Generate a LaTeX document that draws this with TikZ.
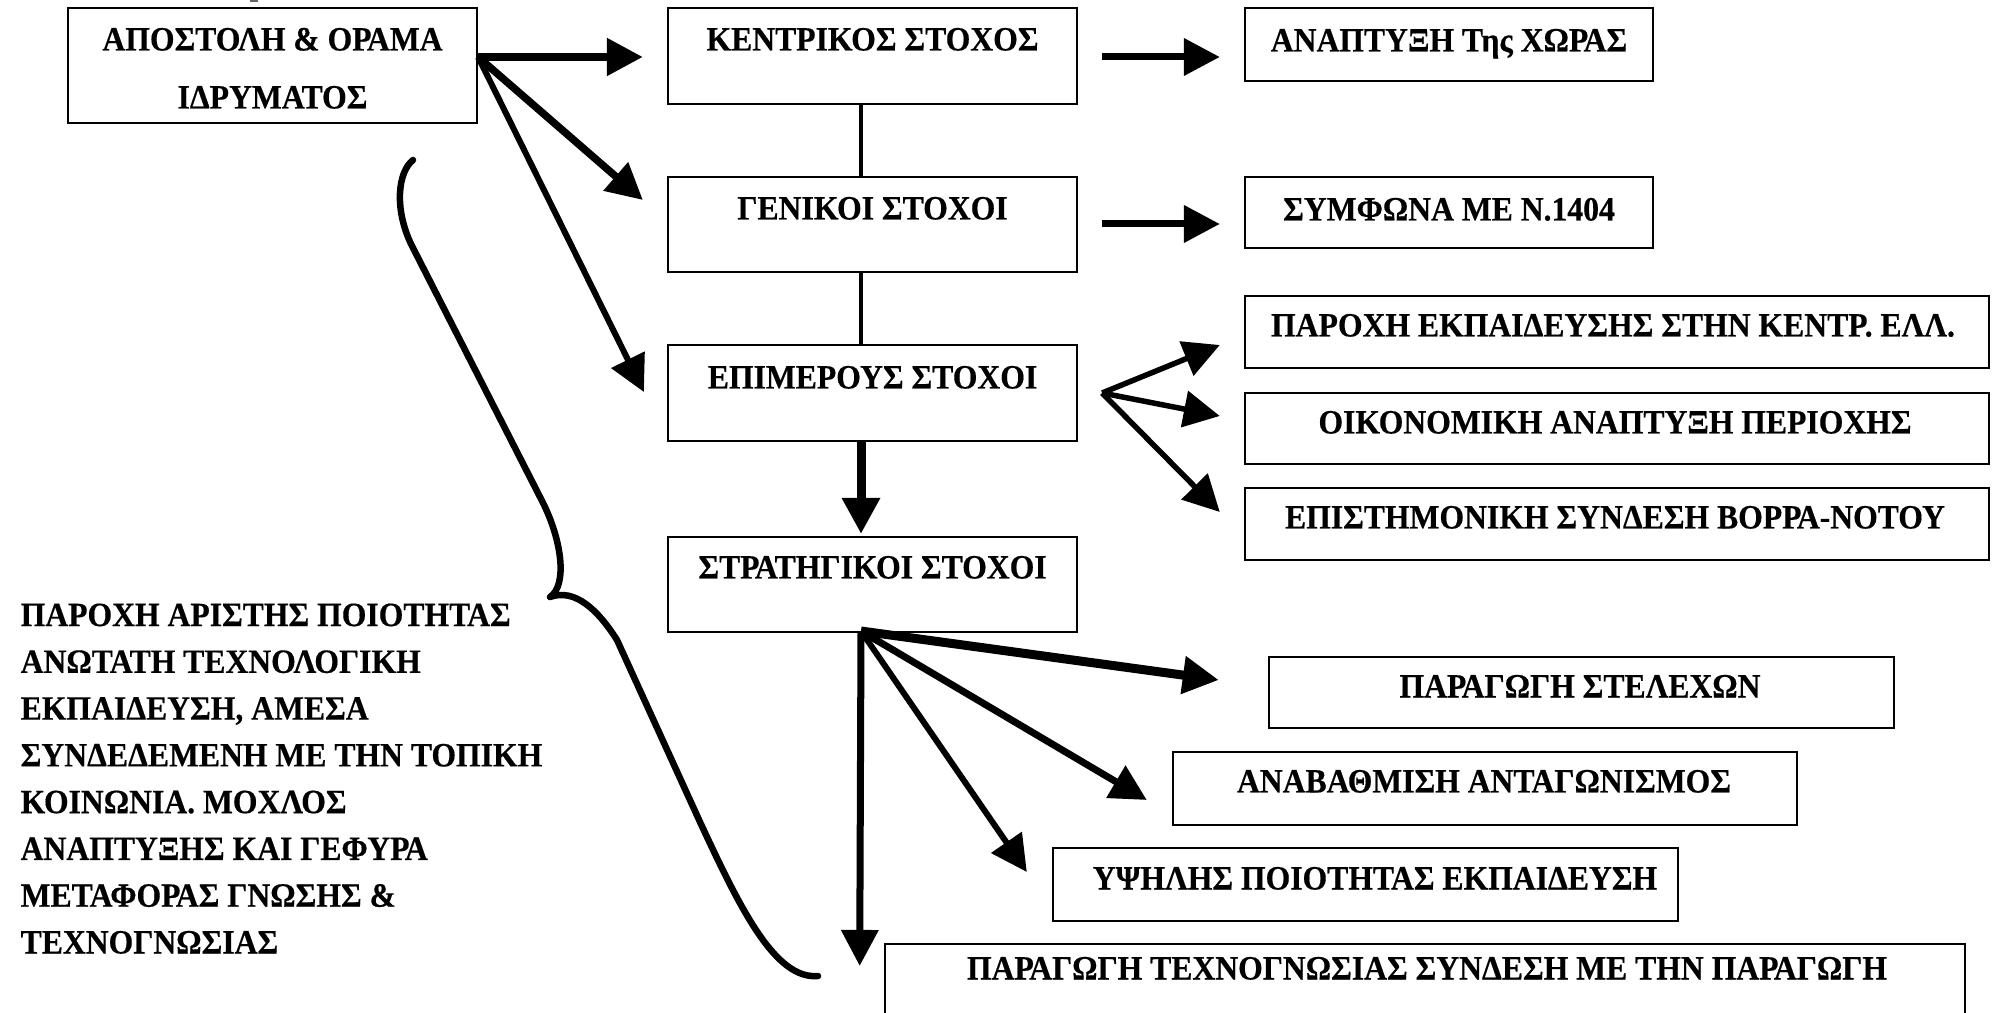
\documentclass[tikz,border=0pt]{standalone}
\usepackage{fontspec}
\setmainfont{Liberation Serif}[FakeStretch=0.93, BoldFeatures={FakeStretch=0.93, FakeBold=0.4}]
\usetikzlibrary{arrows.meta,calc}
\begin{document}
\begin{tikzpicture}[x=0.01cm,y=-0.01cm,
  box/.style={draw=black, line width=0.02cm, inner sep=0pt, rectangle},
  txt/.style={font=\bfseries\fontsize{9.68}{13.3}\selectfont, inner sep=0pt, anchor=base},
  arr/.style={-{Triangle[length=0.36cm,width=0.36cm]}},
  plain/.style={line width=0.035cm},
  brace/.style={line width=0.065cm, line cap=round, line join=round}]
\useasboundingbox (0,0) rectangle (1997,1013);
\clip (0,0) rectangle (1997,1013);

% small mark at top
\fill[black!60] (250,0) rectangle (258,2);

% boxes
\node[box, minimum width=4.09cm, minimum height=1.15cm] (b1) at (272.5,65.5) {};
\node[box, minimum width=4.09cm, minimum height=0.96cm] (k) at (872.5,56) {};
\node[box, minimum width=4.09cm, minimum height=0.95cm] (g) at (872.5,224.5) {};
\node[box, minimum width=4.09cm, minimum height=0.96cm] (e) at (872.5,393) {};
\node[box, minimum width=4.09cm, minimum height=0.95cm] (s) at (872.5,584.5) {};
\node[box, minimum width=4.08cm, minimum height=0.73cm] (a) at (1449,44.5) {};
\node[box, minimum width=4.08cm, minimum height=0.71cm] (n) at (1449,212.5) {};
\node[box, minimum width=7.44cm, minimum height=0.72cm] (p1) at (1617,332) {};
\node[box, minimum width=7.44cm, minimum height=0.71cm] (p2) at (1617,428.5) {};
\node[box, minimum width=7.44cm, minimum height=0.72cm] (p3) at (1617,524) {};
\node[box, minimum width=6.25cm, minimum height=0.71cm] (q1) at (1581.5,692.5) {};
\node[box, minimum width=6.24cm, minimum height=0.73cm] (q2) at (1485,788.5) {};
\node[box, minimum width=6.25cm, minimum height=0.73cm] (q3) at (1365.5,884.5) {};
\node[box, minimum width=10.80cm, minimum height=0.97cm] (q4) at (1425,992.5) {};

% texts
\node[txt] (b1t) at (272.5,50.5) {ΑΠΟΣΤΟΛΗ \& ΟΡΑΜΑ};
\node[txt] (b1u) at (272.5,108.5) {ΙΔΡΥΜΑΤΟΣ};
\node[txt] (kt) at (872.5,50.5) {ΚΕΝΤΡΙΚΟΣ ΣΤΟΧΟΣ};
\node[txt] (gt) at (872.5,219.5) {ΓΕΝΙΚΟΙ ΣΤΟΧΟΙ};
\node[txt] (et) at (872.5,388.5) {ΕΠΙΜΕΡΟΥΣ ΣΤΟΧΟΙ};
\node[txt] (st) at (872.5,578.5) {ΣΤΡΑΤΗΓΙΚΟΙ ΣΤΟΧΟΙ};
\node[txt] (at) at (1449,51.5) {ΑΝΑΠΤΥΞΗ Της ΧΩΡΑΣ};
\node[txt] (nt) at (1449,220.5) {ΣΥΜΦΩΝΑ ΜΕ Ν.1404};
\node[txt] (p1t) at (1613,336.5) {ΠΑΡΟΧΗ ΕΚΠΑΙΔΕΥΣΗΣ ΣΤΗΝ ΚΕΝΤΡ. ΕΛΛ.};
\node[txt] (p2t) at (1615,433.5) {ΟΙΚΟΝΟΜΙΚΗ ΑΝΑΠΤΥΞΗ ΠΕΡΙΟΧΗΣ};
\node[txt] (p3t) at (1615,528.5) {ΕΠΙΣΤΗΜΟΝΙΚΗ ΣΥΝΔΕΣΗ ΒΟΡΡΑ-ΝΟΤΟΥ};
\node[txt] (q1t) at (1580,697.5) {ΠΑΡΑΓΩΓΗ ΣΤΕΛΕΧΩΝ};
\node[txt] (q2t) at (1484,792.5) {ΑΝΑΒΑΘΜΙΣΗ ΑΝΤΑΓΩΝΙΣΜΟΣ};
\node[txt] (q3t) at (1375,889.5) {ΥΨΗΛΗΣ ΠΟΙΟΤΗΤΑΣ ΕΚΠΑΙΔΕΥΣΗ};
\node[txt] (q4t) at (1427,979.5) {ΠΑΡΑΓΩΓΗ ΤΕΧΝΟΓΝΩΣΙΑΣ ΣΥΝΔΕΣΗ ΜΕ ΤΗΝ ΠΑΡΑΓΩΓΗ};

\node[txt, anchor=base west, align=left] (left) at (20,953.5) {ΠΑΡΟΧΗ ΑΡΙΣΤΗΣ ΠΟΙΟΤΗΤΑΣ\\ΑΝΩΤΑΤΗ ΤΕΧΝΟΛΟΓΙΚΗ\\ΕΚΠΑΙΔΕΥΣΗ, ΑΜΕΣΑ\\ΣΥΝΔΕΔΕΜΕΝΗ ΜΕ ΤΗΝ ΤΟΠΙΚΗ\\ΚΟΙΝΩΝΙΑ. ΜΟΧΛΟΣ\\ΑΝΑΠΤΥΞΗΣ ΚΑΙ ΓΕΦΥΡΑ\\ΜΕΤΑΦΟΡΑΣ ΓΝΩΣΗΣ \&\\ΤΕΧΝΟΓΝΩΣΙΑΣ};

% connectors from the mission box
\coordinate (o1) at ($(b1.east)+(0,-8.5)$);
\draw[arr, line width=0.08cm] (o1) -- ($(k.west)+(-24,1)$);
\draw[arr, line width=0.075cm] (o1) -- ($(g.west)+(-24,-24.5)$);
\draw[arr, line width=0.06cm] (o1) -- ($(e.west)+(-23,-1)$);

% right arrows
\draw[arr, line width=0.07cm] ($(k.east)+(24,1)$) -- ($(a.west)+(-24,12.5)$);
\draw[arr, line width=0.07cm] ($(g.east)+(24,-0.5)$) -- ($(n.west)+(-24,11.5)$);

% vertical links
\draw[plain] ($(k.south)+(-11.5,0)$) -- ($(g.north)+(-11.5,0)$);
\draw[plain] ($(g.south)+(-11.5,0)$) -- ($(e.north)+(-11.5,0)$);
\draw[arr, line width=0.09cm] ($(e.south)+(-11.5,0)$) -- ($(s.north)+(-11.5,-2)$);

% fan from e
\coordinate (o2) at ($(e.east)+(24,0)$);
\draw[arr, line width=0.055cm] (o2) -- ($(p1.west)+(-24,13)$);
\draw[arr, line width=0.055cm] (o2) -- ($(p2.west)+(-24,-12.5)$);
\draw[arr, line width=0.055cm] (o2) -- ($(p3.west)+(-24,-12)$);

% fan from s
\coordinate (o3) at ($(s.south)+(-11.5,-2)$);
\draw[arr, line width=0.09cm] (o3) -- ($(q1.west)+(-49,-12.5)$);
\draw[arr, line width=0.07cm] (o3) -- ($(q2.west)+(-25,11.5)$);
\draw[arr, line width=0.06cm] (o3) -- ($(q3.west)+(-25,-12.5)$);
\draw[arr, line width=0.07cm] (o3) -- ($(q4.north west)+(-24,23)$);

% brace
\draw[brace] (413,160) .. controls (398,172) and (394,208) .. (411,244)
  -- (540,497) .. controls (562,538) and (568,585) .. (550,597)
  .. controls (575,588) and (598,610) .. (617,640)
  -- (700,822) .. controls (740,908) and (775,980) .. (818,976);
\end{tikzpicture}
\end{document}
